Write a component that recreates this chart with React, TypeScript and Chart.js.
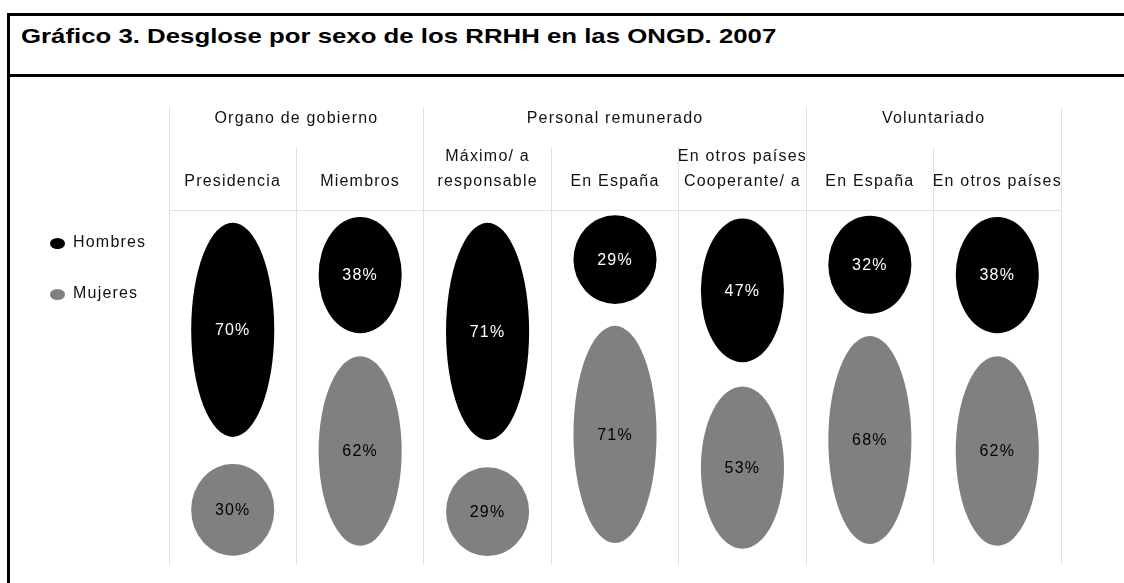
import React, { useEffect, useRef } from 'react';
import { Chart, registerables } from 'chart.js';

Chart.register(...registerables);

const FONT = '"Liberation Sans", Arial, sans-serif';
Chart.defaults.font.family = FONT;
Chart.defaults.color = '#111111';

const title = 'Gráfico 3. Desglose por sexo de los RRHH en las ONGD. 2007';
const categories: (string | string[])[] = [
  'Presidencia',
  'Miembros',
  ['Máximo/ a', 'responsable'],
  'En España',
  ['En otros países', 'Cooperante/ a'],
  'En España',
  'En otros países',
];
const groups = ['Organo de gobierno', 'Personal remunerado', 'Voluntariado'];
const groupSizes = [2, 3, 2];
const seriesNames = ['Hombres', 'Mujeres'];
const hombres = [70, 38, 71, 29, 47, 32, 38];
const mujeres = [30, 62, 29, 71, 53, 68, 62];

const groupBounds: number[] = [-0.5];
groupSizes.forEach((s) => groupBounds.push(groupBounds[groupBounds.length - 1] + s));
const groupCenters = groupSizes.map((s, i) => groupBounds[i] + s / 2);

const LS = '1.2px';
const GRID = '#e0e0e0';

const spacingPlugin = {
  id: 'spacing',
  beforeLayout(chart: any) {
    chart.ctx.letterSpacing = LS;
  },
  beforeDraw(chart: any) {
    chart.ctx.letterSpacing = LS;
  },
};

const ellipsePlugin = {
  id: 'ellipses',
  beforeDatasetDraw(chart: any, args: any) {
    const ctx = chart.ctx;
    const ds: any = chart.data.datasets[args.index];
    ctx.save();
    ctx.letterSpacing = LS;
    args.meta.data.forEach((el: any, i: number) => {
      const { x, y, base, width } = el.getProps(['x', 'y', 'base', 'width'], true);
      const top = Math.min(y, base);
      const bottom = Math.max(y, base);
      const h = bottom - top;
      const eTop = top + h * 0.051;
      const eBot = bottom - h * 0.087;
      const cy = (eTop + eBot) / 2;
      ctx.beginPath();
      ctx.ellipse(x, cy, width / 2, (eBot - eTop) / 2, 0, 0, Math.PI * 2);
      ctx.fillStyle = ds.backgroundColor;
      ctx.fill();
      ctx.fillStyle = ds.labelColor;
      ctx.font = `16px ${FONT}`;
      ctx.textAlign = 'center';
      ctx.textBaseline = 'middle';
      ctx.fillText(`${ds.data[i]}%`, x, cy + 1);
    });
    ctx.restore();
    return false;
  },
};

const legendPlugin = {
  id: 'sideLegend',
  afterDraw(chart: any) {
    const ctx = chart.ctx;
    ctx.save();
    ctx.letterSpacing = LS;
    chart.data.datasets.forEach((ds: any, i: number) => {
      const cy = 243.5 + i * 51;
      ctx.beginPath();
      ctx.ellipse(57.5, cy, 7.5, 5.5, 0, 0, Math.PI * 2);
      ctx.fillStyle = ds.backgroundColor;
      ctx.fill();
      ctx.fillStyle = '#111111';
      ctx.font = `16px ${FONT}`;
      ctx.textAlign = 'left';
      ctx.textBaseline = 'middle';
      ctx.fillText(ds.label, 73, cy - 0.5);
    });
    ctx.restore();
  },
};

export default function App() {
  const ref = useRef<HTMLCanvasElement>(null);

  useEffect(() => {
    const chart = new Chart(ref.current as HTMLCanvasElement, {
      type: 'bar',
      data: {
        labels: categories,
        datasets: [
          { label: seriesNames[0], data: hombres, backgroundColor: '#000000', labelColor: '#ffffff' } as any,
          { label: seriesNames[1], data: mujeres, backgroundColor: '#808080', labelColor: '#000000' } as any,
        ],
      },
      options: {
        responsive: false,
        animation: false,
        layout: { padding: { left: 169, right: 63, top: 107, bottom: 18 } },
        plugins: { legend: { display: false }, tooltip: { enabled: false } },
        datasets: { bar: { categoryPercentage: 1, barPercentage: 0.652 } },
        scales: {
          x: {
            type: 'category',
            position: 'top',
            stacked: true,
            weight: 0,
            offset: true,
            grid: { offset: true, color: GRID, tickLength: 63, drawTicks: true },
            border: { display: true, color: GRID },
            ticks: {
              autoSkip: false,
              maxRotation: 0,
              minRotation: 0,
              padding: -47,
              font: { size: 16, lineHeight: 1.55 },
              color: '#111111',
            },
            afterFit: (s: any) => {
              s.height = 63;
            },
          },
          x2: {
            type: 'linear',
            position: 'top',
            weight: 1,
            min: -0.5,
            max: 6.5,
            offset: false,
            grid: {
              offset: false,
              drawOnChartArea: false,
              tickLength: 40,
              color: (c: any) => (c.tick && groupBounds.includes(c.tick.value) ? GRID : 'rgba(0,0,0,0)'),
            },
            border: { display: false },
            ticks: {
              autoSkip: false,
              maxRotation: 0,
              minRotation: 0,
              padding: -21,
              font: { size: 16, lineHeight: 1.2 },
              color: '#111111',
              callback: (v: any) => {
                const gi = groupCenters.indexOf(Number(v));
                return gi >= 0 ? groups[gi] : '';
              },
            },
            afterBuildTicks: (s: any) => {
              s.ticks = [...groupBounds, ...groupCenters].sort((a, b) => a - b).map((v) => ({ value: v }));
            },
            afterFit: (s: any) => {
              s.height = 40;
            },
          },
          y: { stacked: true, reverse: true, min: 0, max: 100, display: false },
        },
      } as any,
      plugins: [spacingPlugin, ellipsePlugin, legendPlugin],
    });
    return () => chart.destroy();
  }, []);

  return (
    <div style={{ position: 'fixed', left: 0, top: 0, width: 1124, height: 583, overflow: 'hidden', background: '#ffffff' }}>
      <div
        style={{
          position: 'absolute',
          left: 7,
          top: 13,
          width: 1200,
          height: 700,
          borderTop: '3px solid #000',
          borderLeft: '3px solid #000',
          boxSizing: 'border-box',
        }}
      />
      <div style={{ position: 'absolute', left: 7, top: 74, width: 1200, height: 3, background: '#000' }} />
      <div
        style={{
          position: 'absolute',
          left: 21,
          top: 25,
          font: `bold 21px ${FONT}`,
          lineHeight: '21px',
          whiteSpace: 'nowrap',
          color: '#000',
          transform: 'scaleX(1.228)',
          transformOrigin: 'left center',
        }}
      >
        {title}
      </div>
      <canvas ref={ref} width={1124} height={583} style={{ position: 'absolute', left: 0, top: 0, width: 1124, height: 583 }} />
    </div>
  );
}
